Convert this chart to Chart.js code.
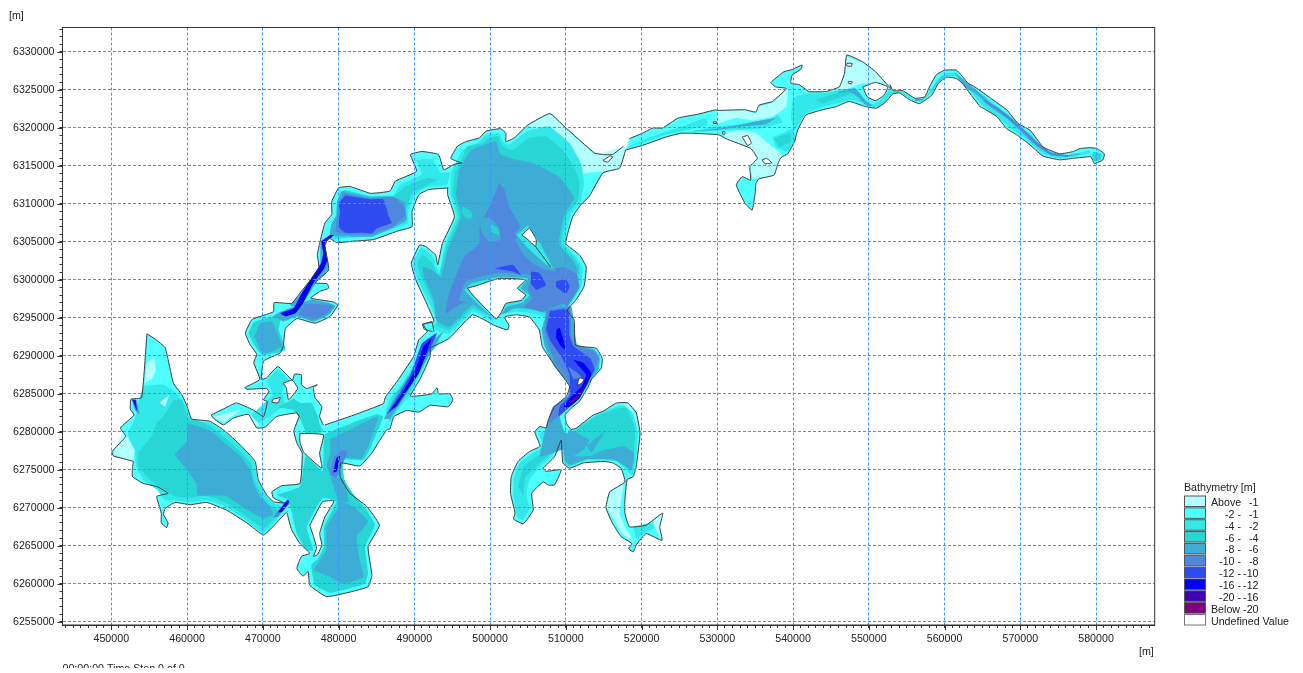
<!DOCTYPE html>
<html>
<head>
<meta charset="utf-8">
<title>Bathymetry</title>
<script src="https://cdn.jsdelivr.net/npm/chart.js@4/dist/chart.umd.min.js"></script>
<style>
  html, body { margin: 0; padding: 0; background: #fff; overflow: hidden; }
  canvas { display: block; filter: blur(0.35px); }
</style>
</head>
<body>
<canvas id="map" width="1303" height="673"></canvas>
<script>
// all outlines are [easting km, northing km]
const legendLabels = [
  ["Above", "-1"], ["-2 -", "-1"], ["-4 -", "-2"], ["-6 -", "-4"], ["-8 -", "-6"],
  ["-10 -", "-8"], ["-12 -", "-10"], ["-16 -", "-12"], ["-20 -", "-16"], ["Below", "-20"]
];
const c1 = "#b3ffff", c2 = "#4dffff", c3 = "#33e8e8", c4 = "#29d6d6", c5 = "#3dadd6";
const c6 = "#5088dd", c7 = "#2e4cf2", c8 = "#0000ff", c9 = "#4000b3", c10 = "#800080";
const legendColors = [c1, c2, c3, c4, c5, c6, c7, c8, c9, c10];

// shores: each body is a list of runs, the gaps between runs are open water
const westLakeShore = [
  [[454.7,6292.9],[455.8,6292.2],[457.1,6291.1],[457.5,6289.5],[458.2,6286.4],[459.3,6284.9],[460.0,6283.4],[460.6,6281.7],[463.0,6281.4],[465.0,6280.1],[467.0,6278.3],[469.0,6276.1],[469.4,6273.7],[470.5,6271.7],[471.4,6270.8],[472.9,6270.6]],
  [[473.2,6269.5],[471.8,6268],[470.1,6266.4],[467.9,6268],[465.2,6269.7],[462.6,6270.7],[460.4,6270.4],[458.4,6270.7],[457.1,6269.9],[456.9,6269.1],[457.5,6268],[457.3,6267.4],[456.6,6268],[456.6,6269.3],[456,6271.5],[457.5,6271.9],[456,6272.8],[454.2,6273.2],[452.8,6274.1],[452.8,6275.4],[452.9,6276.1],[450.3,6276.8],[450.1,6277.4],[451.9,6279.4],[451.2,6280.5],[453,6282.2],[452.5,6283],[452.6,6284.3],[454,6284.5],[454.7,6292.9]]
];
const southBodyShore = [
  [[473.2,6269.3],[473.8,6267.1],[474.9,6265.3],[476.2,6264],[475.1,6263.6],[474.5,6262],[475.3,6261],[476,6261.6],[476.2,6259.8],[478.4,6258.3],[481.5,6258.9],[483.9,6259.6],[484.4,6261.1],[483.9,6264.9],[485.4,6267.7],[483.7,6270.2],[481.5,6271.9],[480.2,6274.1],[480.3,6275.9],[482.8,6275.5],[484.4,6277.2],[485.2,6278.5],[486.4,6280.3],[486.8,6280.4],[487.3,6282],[489,6282.8],[490.6,6282.6],[492.1,6283.5],[493.2,6283.4],[494.5,6283.3],[495.1,6284.2],[494.7,6285],[493.2,6285],[493,6285.8],[492.3,6285],[489.5,6284.7],[490.8,6287],[492.1,6289.9],[492.1,6291]],
  [[492.6,6293.2],[492.3,6294.5],[491.2,6294.1],[491.7,6293.2],[490.6,6292.1],[489.9,6289.9],[487.7,6286.6],[486.2,6284.6],[485.9,6283.7],[482,6282.2],[478.2,6280.9]],
  [[474.8,6282],[474.1,6280.1],[474.5,6278.5],[475.2,6277.2],[474.9,6273.2],[472.5,6272.9],[471.2,6272.1],[471.4,6271.3],[472.9,6270.6]]
];
const northBodyShore = [
  [[478,6280.9],[477.5,6282],[477.8,6283.3],[476.9,6284.5],[476.7,6285.8],[477.2,6286.2],[475.8,6285.7],[475.1,6286.2],[475.1,6287.5],[474.2,6287.6],[473.9,6286.8],[472,6288.6],[470.5,6287.1],[469.8,6286.9],[470.1,6289.3],[472.3,6290.4],[472.7,6291.3],[473,6293.6],[474.5,6294.9],[476.9,6294.3],[478.9,6295.2],[479.9,6296.7],[479.3,6297.1],[476.3,6297.6],[477.6,6298.5],[478.7,6298.9],[478.5,6299.5],[476.9,6299.6],[478.7,6301.3],[478.2,6304.5],[478.7,6305.5],[479.8,6304.9],[482,6305.1],[484.6,6305.3],[487.7,6306.4],[489.7,6307],[489.7,6309],[490.6,6311.2],[491.9,6311.9],[494.5,6312.1]],
  [[496.3,6315.4],[495.2,6315.2],[493.9,6314.5],[493.2,6316.5],[491,6316.9],[489.5,6316.5],[490.3,6314.3],[487.5,6313],[486.8,6311.7],[484.2,6311.4],[481.5,6312.3],[480,6312.1],[479.1,6310.3],[479.1,6308.6],[478.2,6307.5],[477.5,6304.8],[477.2,6303.3],[477.4,6301.5],[474.7,6298],[473.8,6296.9],[471.5,6297],[471.4,6295.8],[468.6,6294.8],[467.7,6293],[468.3,6291.5],[469.2,6290.2],[468.8,6289.1],[469.6,6286.9],[467.6,6285.8],[467.9,6285.6],[470.5,6285.7],[470.8,6285.3],[470.1,6284.2],[470.6,6284],[470.1,6282],[468.7,6282.9],[466.5,6283.8],[465,6283.1],[463.2,6282.2],[463.7,6281.6],[464.8,6280.9],[466.1,6281.8],[468.1,6282.3],[469.2,6280.5],[470.3,6280.6],[471.8,6282],[474.5,6282.5],[474.8,6282]]
];
const centralBodyShore = [
  [[496.2,6315.4],[494.8,6316],[495.7,6317.6],[496.8,6318.2],[498.6,6318.7],[499.5,6319.6],[501.4,6319.9],[502.1,6319.3],[502.1,6318.2],[503.2,6318.7],[505,6320.4],[507.9,6321.9],[509.8,6320.2],[513.8,6316.7],[514.9,6316.5],[516.2,6316.5],[517.6,6317.6]],
  [[517.9,6317.1],[517.1,6314.7],[514.9,6314.1],[513.1,6311],[512,6309.9],[510.9,6308.3],[510,6304.8],[511.8,6303.3],[512.7,6301.7],[512.4,6299.1],[511.3,6297.3],[510.2,6296],[511.1,6294.7],[511.3,6291.4],[514,6291],[514.8,6289.7],[514.7,6288.4],[513.4,6286.9],[512.9,6285.8],[511.8,6284],[510.7,6283.1],[509.9,6282.2],[510.1,6281.1],[510.7,6280.3],[511.4,6280.5],[513.6,6282.2],[514.9,6282.7],[516.7,6283.8],[518.2,6283.8],[519.3,6282.5],[519.8,6279.8],[519.3,6275.4],[518.9,6274.1],[518.1,6273.7],[517.8,6271],[517.8,6269.3],[518.4,6267.5],[520.6,6267.7],[522.8,6269.3],[522.4,6267.5],[522.7,6265.7],[520.6,6266.6],[519.3,6265.1],[518.9,6264.2],[518.3,6264.6],[518.7,6265.3],[517.3,6266.2],[516.2,6267.9],[515.3,6270],[515.8,6272.1],[517.8,6273.4],[517.3,6275.2],[516.2,6275.9],[515.1,6276.1],[512.3,6275.9],[510.5,6275.2],[509.6,6275.9],[509.4,6278.9],[508.5,6276.7],[507,6275.2],[507.4,6274.8],[509.4,6275],[508.5,6273],[507.7,6273],[507,6273.4],[505.5,6271.9],[505.7,6269.7],[504.4,6267.9],[503.1,6268.5],[503.3,6269.3],[502.7,6271.9],[502.8,6274.1],[503.7,6276.1],[505.2,6277.4],[506.6,6278.1],[505.9,6280],[506.6,6280.7],[507.4,6280.5],[507.7,6281.6],[508.5,6283.3],[510.1,6284.7],[510.5,6286],[508.7,6288.5],[506.9,6291.2],[506.5,6293.4],[505.2,6295.1],[503.4,6295.4],[501.9,6295.1],[502.5,6294],[502.3,6293.4],[500.6,6294],[497.7,6295.4],[494.6,6292.3],[492,6291]],
  [[492.4,6293.2],[491.3,6293.5],[491.1,6294.2],[492.6,6294.5],[491.8,6296.5],[490.2,6300],[489.6,6302.2],[490.7,6304.6],[491.5,6304.4],[492.8,6303.3],[493.1,6302],[493.7,6304.8],[495.3,6308.3],[494.4,6311.2],[494.4,6312.1]]
];
const riverBodyShore = [
  [[518.4,6318.6],[520.1,6319.3],[521.5,6320],[522.8,6320],[524.8,6321.3],[527.4,6321.8],[529.8,6322.4],[530,6322.3],[533.6,6322.4],[535.1,6322.1],[535.5,6323],[537.3,6323.5],[539.1,6325.2],[537.7,6325.4],[537.1,6326],[538.8,6327.4],[539.9,6327.7],[541.2,6328.3],[541,6327.7],[539.9,6327],[539.7,6325.9],[540.8,6325.7],[542.1,6324.8],[544.3,6324.8],[546.1,6325.4],[546.8,6327.2],[547.1,6329.6],[549.2,6328.7],[550.9,6327.4],[552.9,6325.2],[552.8,6325.7],[553.2,6324.9],[554.5,6324.9],[556.1,6323.9],[557.4,6324.1],[558,6325.4],[558.9,6327],[560,6327.6],[561.6,6327.6],[563.1,6325.9],[564,6325.4],[566.4,6323.7],[568.2,6322.4],[569.7,6320.6],[571.3,6319.7],[573,6317.5],[575.2,6316.6],[577,6316.9],[577.9,6317.3],[579.2,6317.4],[580.1,6317.3],[581.1,6316.6],[580.9,6315.8],[579.8,6315.3],[579.3,6316.2],[577,6316],[575.2,6315.8],[573,6316.3],[571,6318],[569.5,6319.1],[568.2,6319.9],[566.9,6321.5],[565.1,6322.6],[564.7,6322.8],[563.3,6324.6],[562.5,6325.7],[561.6,6326.5],[560.3,6326.7],[559.2,6325.9],[558.3,6324.3],[556.7,6323.2],[555.4,6323.7],[554.1,6324.6],[553.2,6324.5],[552.1,6323.3],[551,6322.6],[549.6,6322.8],[547.4,6323.5],[545.7,6322.8],[543.9,6322.4],[541.7,6321.7],[540.6,6319.7],[540.2,6318.2],[539.3,6316.6],[538.4,6316.1],[538,6315.3],[537.5,6313.8],[535.5,6313.3],[535.1,6312.7],[535,6311.4],[534.6,6309.2],[533.7,6310],[532.5,6312.5],[533.3,6313.6],[534.4,6313.1],[534.3,6314.9],[535.3,6316],[534.4,6317.3],[531.1,6318.6],[530.2,6319.1],[526.7,6319.3],[525.2,6319.3],[523.2,6318.8],[520.1,6317.7],[517.9,6317.1]]
];

// islands
const islandSlit = [[476.2,6267.7],[477.9,6270.8],[479.4,6270.9],[478.2,6268.8],[477.5,6266.6],[477.8,6265.1],[477.2,6263.8],[476.7,6263.6],[477.1,6264.7],[476.7,6266.2]];
const islandJunction = [[474.9,6279.8],[478,6279.6],[477.5,6277.2],[477.8,6275.2],[475.4,6277.3],[474.9,6278.7]];
const islandNetA = [[472.7,6286.4],[473.9,6286.8],[474.6,6285.7],[473.4,6284.2],[473.1,6285.8]];
const islandNetB = [[471.4,6284.3],[472.3,6284.5],[472,6283.8],[471.2,6283.9]];
const islandBig = [[497,6298.9],[498.4,6299.3],[501.2,6300.2],[504.7,6300],[503.6,6298.9],[504.7,6298],[504.1,6297.3],[502.1,6296.9],[501.4,6295.6],[500.8,6294.9],[497.9,6297.8]];
const islandCentral = [[504.2,6305.9],[505.2,6306.8],[506.1,6305.3],[506,6304.4],[505,6305.3]];
const islandChannel = [[511.5,6286.1],[511.8,6287.1],[512.4,6286.9],[512.1,6286.4]];
const islandNeck = [[514.9,6315.7],[515.8,6316.3],[516.2,6316.2],[515.5,6315.5]];
const islandLoop = [[549.2,6325.4],[550.9,6326],[552.5,6325.4],[552,6324.3],[550.9,6323.6],[549.8,6324.1]];
const islandRiverA = [[533.3,6318.8],[534,6319],[534.5,6318],[534,6317.7]];
const islandRiverB = [[535.9,6315.8],[536.5,6316],[537.2,6315.4],[536.3,6315.3]];
const islandRiverC = [[529.5,6320.8],[529.9,6320.8],[529.9,6320.6],[529.5,6320.6]];
const islandRiverD = [[530.7,6319.5],[531,6319.5],[531,6319.2],[530.7,6319.2]];
const islandRiverE = [[547.1,6328.5],[547.8,6328.5],[547.7,6328.1],[547.1,6328.2]];
const islandRiverF = [[547.3,6326.1],[547.8,6326.1],[547.7,6325.8],[547.3,6325.9]];
const spitLine = [[506,6304.4],[508,6301.7]];

// west lake depths
const westC1a = [[454.4,6286.4],[454.7,6289],[455.6,6289.7],[455.9,6288.1],[455.4,6287]];
const westC1b = [[450.3,6277],[451.4,6279.8],[452.2,6279.2],[453.1,6277.6],[452.9,6276.1]];
const westC1c = [[456.4,6283.8],[457.6,6284.8],[457.1,6283.3]];
const westC3 = [[454.2,6286],[456.9,6286.2],[458.8,6284.9],[460,6283.1],[460.5,6281.6],[463,6281.2],[465,6279.9],[467,6278.2],[468.8,6276.1],[469.3,6273.7],[470.4,6271.6],[471.4,6270.6],[472.7,6270.2],[471.8,6268.4],[470.1,6266.7],[467.9,6268.3],[465.2,6270.1],[462.6,6271],[460.4,6270.7],[458.4,6271],[457.1,6271],[456,6272.4],[454.2,6273.7],[453.3,6275.4],[453.1,6277.2],[452.2,6279.8],[453.1,6281.6],[453.8,6284.7]];
const westC4 = [[458.2,6284.2],[459.4,6284.2],[460,6282],[463,6280.8],[464.8,6279.4],[466.8,6277.6],[468.5,6275.7],[468.8,6273.7],[470.1,6271.3],[470.9,6270.4],[472.3,6269.5],[470.9,6268],[470.1,6267.3],[467.9,6268.8],[465.2,6270.6],[462.6,6271.6],[460.4,6271.3],[458.4,6271.5],[456.9,6272.4],[455.1,6273.7],[453.6,6275.4],[453.6,6277.2],[455.3,6279.4],[456,6281.2],[456.9,6282]];
const westC5 = [[460,6281.2],[463.2,6280.1],[465,6278.5],[467,6276.8],[468.3,6275],[468.8,6273.2],[469.6,6271.5],[470.9,6270.2],[471.4,6269.1],[470.1,6268.6],[467.9,6269.7],[465.2,6271.5],[463,6271.6],[461.4,6271.6],[461.2,6273.2],[460,6275],[458.4,6277],[460,6278.7]];
const westSpotC6 = [[452.7,6284.3],[453.3,6284.2],[453.7,6282.3],[453.1,6282.9]];
const westSpotC8 = [[452.8,6284.2],[453.2,6284.2],[453.4,6282.7]];
const straitC6 = [[471.4,6268.8],[472.5,6270.2],[474.9,6272.6],[475.3,6272.1],[473.4,6270.4],[472,6268.8]];
const straitC8 = [[472,6269.4],[473.6,6271.5],[473.8,6271.2],[472.5,6269.4]];

// south basin and the arm running north east
const southC4 = [[471.8,6271.7],[474.9,6272.8],[475.7,6276.8],[477.9,6274.8],[478.2,6279.6],[481.9,6281.2],[485,6282.3],[485.9,6282],[484.4,6278.3],[483.3,6276.3],[480.6,6276.3],[480.8,6273.7],[481.9,6271.9],[483.7,6269.7],[484.8,6267.7],[483.5,6264.9],[483.9,6261.4],[483.5,6260],[481.5,6259.4],[478.9,6258.8],[476.9,6259.8],[476.4,6262.5],[477.3,6263.3],[478.1,6264.9],[478.1,6267.5],[479.7,6270.8],[477.9,6271.3],[475.8,6267.5],[476.7,6264.4],[475.8,6264.4],[474.5,6266.6],[473.8,6269.5],[473.4,6271]];
const southC5 = [[480,6271],[481.9,6270.2],[483.9,6268.2],[482.4,6266.2],[482.8,6263.1],[483.3,6260.9],[480.6,6260],[478.9,6260.9],[476.7,6261.8],[477.5,6263.1],[478.4,6264.4],[478.4,6267.5],[480,6269.9]];
const southStripC5 = [[478.9,6274.1],[480.6,6273.7],[481.3,6270.8],[480,6270.8]];
const armC5 = [[478.9,6279],[481.9,6280.5],[485.2,6282],[484.1,6278.5],[483,6276.5],[480.8,6276.5],[479.3,6274.1],[478.4,6275.4],[478.9,6277.2]];
const armSpotC6 = [[478.8,6274.3],[479.3,6276.5],[480.4,6277.6],[481.2,6277.4],[480.2,6275],[479.7,6273.9]];
const armSpotC8 = [[479.3,6274.6],[479.7,6276.5],[480.2,6276.8],[479.8,6274.8]];
const armUpperC3 = [[486.8,6284.4],[488.6,6286.6],[490.3,6289.4],[491,6291.4],[492.8,6292.5],[493.4,6291.9],[492.1,6290.3],[491.2,6288.6],[489.5,6285],[487.7,6282.8],[486.8,6281.3],[486.2,6282.8]];
const armUpperC5 = [[486,6281.7],[487.3,6284.4],[489.7,6288.1],[491,6291.2],[493,6292.5],[494.1,6293.6],[492.1,6290.3],[490.1,6286.8],[488.1,6283.7],[486.8,6281.7]];
const armUpperC7 = [[486.4,6282.3],[489.5,6287.5],[491,6291.6],[493,6293],[492.1,6291],[490.3,6287.5],[487.9,6283.5]];
const armUpperC8 = [[486.6,6282.6],[487.5,6283.7],[489.2,6286.4],[490.3,6288.6],[491.2,6291.2],[492.3,6292.3],[491.9,6291.2],[490.6,6287.7],[489.5,6286.1],[487.5,6283.3]];

// north west lake, its channel and the small network
const nwC3 = [[480.2,6311.7],[484.2,6310.9],[487.3,6311.2],[488.1,6312.5],[491,6313.9],[490.3,6315.8],[492.5,6315.8],[493.4,6314.1],[494.7,6314.1],[494.3,6312.5],[491.7,6312.2],[490.1,6311.2],[489.2,6309],[489.2,6307.5],[487.3,6306.7],[484.2,6305.7],[481.1,6305.5],[479.3,6305.3],[478.8,6305.7],[479.8,6307.5],[479.6,6309]];
const nwC4 = [[487.3,6311],[488.8,6312.3],[491.7,6313.4],[493.2,6313.2],[491.7,6312.5],[489.7,6311.4],[488.9,6309],[488.8,6307.7],[487.3,6307],[484.2,6306.1],[481.1,6305.8],[479.6,6305.6],[479.8,6310.1],[480.7,6311.8],[484.2,6311]];
const nwC5 = [[480.4,6311.7],[484.2,6310.9],[486.8,6311],[488.6,6310.3],[489,6307.9],[487.3,6306.9],[484.4,6305.7],[480.9,6305.7],[478.9,6305.9],[479.1,6307.5],[479.8,6308.6],[479.8,6310.3]];
const nwC6 = [[480.7,6311.4],[484.2,6310.7],[487.3,6310.9],[488.7,6309.7],[488.8,6308.4],[487.3,6307.1],[484.4,6306],[480.9,6306],[479.6,6306.4],[479.8,6308.1],[480,6310.1]];
const nwC7 = [[480.9,6311.1],[484.2,6310.6],[485.9,6310.6],[486.6,6308.4],[487,6307.5],[485.1,6306.8],[484.4,6306.1],[483.1,6306.2],[480.9,6306.2],[480,6307],[480.2,6309],[480,6310.1]];
const channelC5 = [[477.6,6304.9],[478.2,6304.7],[478.7,6301.5],[477,6299.6],[475.6,6297.4],[474.7,6296.3],[473.6,6296.7],[474.7,6297.8],[476.7,6300.4],[477.6,6302.2]];
const channelC8 = [[477.7,6305.1],[478.9,6305.9],[479.4,6305.9],[478.2,6304.8],[478.5,6302.6],[478.1,6301.5],[476.7,6299.6],[475.3,6296.9],[474.3,6295.6],[473,6295.2],[472.3,6295.6],[474.1,6296.3],[474.9,6297.8],[476.5,6300.4],[477.7,6302.2],[478,6303.5]];
const midLakeC5 = [[474.1,6296.5],[476.3,6297.4],[478.9,6296.9],[479.6,6296.6],[478.7,6295.4],[476.7,6294.5],[474.5,6295.2],[472.7,6294.5],[471.4,6295.2],[472.3,6295.8]];
const midLakeC6 = [[475.6,6296.9],[478.9,6296.7],[479.3,6296.5],[478.5,6295.5],[476.7,6294.8],[474.7,6295.4]];
const smallLakeC4 = [[468.1,6293],[468.8,6294.4],[471.4,6295.2],[472.3,6294.7],[472.1,6293.4],[473,6290.8],[470.3,6290.1],[469.7,6290.3],[468.6,6291.9]];
const smallLakeC5 = [[468.9,6292.5],[469.6,6294.2],[471.2,6294.5],[471.9,6293],[472.5,6291.2],[470.3,6290.3],[469.7,6290.7]];
const netC3 = [[470.5,6286.7],[472,6288.2],[473.5,6286.7],[472.5,6285.3],[472.9,6283.8],[471.6,6282.5],[469.6,6281.2],[468.5,6282.1],[470,6283.6],[471.2,6284.7],[471,6286]];
const netC4 = [[474.9,6283.8],[476.4,6283.8],[477.3,6282],[477.5,6281],[478,6280],[475.8,6279.8],[475,6281.6],[474,6282.9],[472,6283.2],[474.1,6284.4]];
const netC1a = [[463.5,6282],[467,6282.9],[466.6,6282.5],[464.8,6281.2]];
const netC1b = [[468.1,6282],[469.2,6280.8],[469.6,6280.8],[468.5,6282.1]];

// central lake
const centralC1 = [[505,6320.3],[507.9,6321.8],[509.8,6320.1],[513.8,6316.6],[517.6,6317.5],[517.9,6317.2],[517.1,6314.8],[515,6314],[513.2,6311.1],[512.6,6313.1],[510.9,6316.1],[508.7,6319],[506.5,6319.7]];
const centralC2 = [[510.5,6313.8],[514.9,6314.2],[513.1,6311.3],[511.8,6310.4],[510.9,6312.2]];
const centralC3 = [[495.5,6315.4],[496.4,6317.1],[498.6,6318.2],[499.5,6319.1],[501.2,6319.3],[501.7,6318.2],[502.5,6317.8],[505,6319.6],[507.8,6320.2],[510.5,6318],[512,6315.4],[512.4,6312.7],[512,6310.5],[510.7,6308.6],[509.8,6304.8],[511.3,6303.1],[512.2,6301.7],[512,6299.1],[510.7,6296.9],[509.6,6295.6],[507.4,6295.1],[505.6,6295.6],[503.4,6295.8],[502.1,6295.6],[501.2,6295.1],[500.3,6294.7],[497.7,6295.8],[494.6,6292.9],[492.4,6293.6],[492.9,6294.7],[492,6296.9],[490.4,6300.2],[489.9,6302.2],[490.9,6304.2],[492.4,6303.1],[493.3,6300.9],[494,6304.4],[495.6,6308.3],[494.8,6311.2],[494.8,6314.1]];
const centralC4 = [[496.2,6315.6],[497,6317.6],[499,6318],[499.8,6318.7],[501,6318.9],[501.7,6317.6],[503,6317.1],[505.2,6318.7],[507.4,6318.9],[509.6,6317.1],[511.3,6314.5],[511.8,6312.7],[511.6,6310.5],[510.2,6308.6],[509.4,6304.8],[510.9,6303.1],[511.8,6301.7],[511.6,6299.3],[510.2,6297.1],[509.4,6296],[507.4,6295.6],[505.6,6296],[503.4,6296.2],[502.3,6296],[501.2,6295.4],[500.3,6295.1],[497.7,6296.2],[494.6,6293.4],[492.9,6294],[493.2,6294.9],[492.4,6297.1],[490.9,6300.4],[490.4,6302.2],[491.1,6303.3],[492.4,6302.2],[493.2,6300.4],[494.2,6304.2],[495.9,6308.3],[495.1,6311.2],[495.3,6314.1]];
const centralC5 = [[496.4,6315.4],[497.5,6317.1],[499.7,6318],[500.8,6318.2],[501.4,6316.5],[503.4,6315.8],[505.6,6315.4],[509.1,6313.6],[511.1,6310.8],[509.8,6308.6],[509.1,6304.8],[510.9,6302.6],[511.6,6301.3],[510.9,6298.7],[509.1,6296],[506.9,6295.8],[505.4,6296.2],[503,6296.5],[502.1,6296.2],[501.2,6295.6],[500.3,6295.6],[497.9,6296.9],[494.6,6293.8],[492.9,6294.7],[492.6,6297.3],[491.3,6300.4],[491.1,6301.7],[492.4,6301.3],[493.5,6300.4],[494.4,6303.9],[496.2,6308.3],[495.5,6311.2],[495.9,6314.5]];
const centralC6 = [[501.2,6312.8],[501.9,6311.9],[502.5,6309.7],[503.9,6307.2],[503.4,6305.3],[504.3,6303.5],[505.6,6302.2],[507.4,6301.3],[509.6,6301.7],[511.3,6300.9],[511.8,6299.1],[510.2,6296.5],[509.6,6296.9],[506.9,6295.8],[505.4,6296.2],[503,6296.5],[501.7,6295.6],[500.3,6295.6],[497.9,6296.9],[496.2,6296.9],[494.2,6295.6],[494.6,6298.2],[496.6,6303.1],[498.6,6304.8],[498.6,6307],[499.5,6308.8],[500.3,6310.5]];
const ringC5 = [[495.9,6297.3],[496.8,6299.8],[501.2,6300.9],[505.4,6300.6],[505,6298.7],[505.6,6297.6],[504.5,6296.5],[503,6296.2],[502.1,6295.6],[501.4,6295.6],[500.3,6295.1],[497.9,6296.7]];
const ringC3 = [[496.6,6298.7],[497.5,6299.5],[501.2,6300.4],[505,6300.2],[504.1,6298.9],[505.2,6298],[504.3,6297],[502.3,6296.5],[501.4,6295.4],[500.8,6294.7],[497.9,6297.3]];
const slitC5 = [[503.2,6306.1],[505,6307.5],[506.7,6305.3],[508.7,6301.1],[506.9,6301.7],[504.7,6303.9]];
const slitC3 = [[503.5,6305.9],[505,6307.1],[506.5,6305],[508.3,6301.5],[507.2,6302.2],[505,6304.2]];
const patchC5 = [[498.6,6307.9],[499.9,6308.3],[501.2,6306.8],[501.4,6305.3],[499.9,6305],[498.8,6306.4]];
const patchC4a = [[499.9,6307.5],[501,6306.8],[501.2,6305.9],[500.1,6306.4]];
const patchC4b = [[496.4,6309.7],[497.5,6309],[497.7,6308.1],[496.8,6308.1],[496.2,6309]];
const deepC7a = [[505.4,6301.1],[506.5,6300.9],[507.4,6299.3],[506.1,6298.7],[505.4,6299.5]];
const deepC7b = [[508.7,6299.8],[510,6300.1],[510.5,6299.1],[510,6298.2],[508.7,6299.1]];
const deepC7c = [[500.6,6301.5],[503,6302],[504.1,6300.6],[503,6301.1],[501.2,6301.4]];

// channel south of the central lake
const southChC5 = [[507.7,6296.3],[510.7,6296.5],[511.2,6293],[511.5,6291.5],[513.8,6290.8],[514.5,6289.7],[514.3,6288.2],[512.9,6286.2],[511.4,6284.2],[509.9,6282.9],[509.2,6282],[509.9,6279.8],[510.7,6279.8],[510.5,6278.1],[506.6,6276.7],[507,6278.9],[507.4,6280.7],[508.3,6283.3],[510.3,6284.7],[510.5,6286],[508.5,6288.6],[507.2,6291.3],[506.8,6293.5]];
const southChC6 = [[507.4,6296.1],[510.5,6296.3],[510.7,6292.6],[511.3,6291.3],[513.8,6290.6],[514.3,6289.5],[513.9,6288.4],[512.5,6286],[511,6283.8],[509.4,6282.5],[509,6282],[507.7,6281.1],[508.5,6283.3],[510.3,6284.7],[510.5,6286.4],[508.8,6288.8],[507.7,6291.3],[507.2,6293.2]];
const southChC7 = [[507.9,6295.9],[510.3,6296.1],[510.5,6292.6],[511,6291.3],[513.2,6289.7],[513.8,6288.2],[512.7,6286.2],[511.4,6284.2],[509.9,6282.7],[509,6282],[509.2,6283.3],[510.5,6284.7],[510.5,6287.5],[509.4,6289.9],[507.9,6292.1],[507.4,6293.5]];
const southChPatchC6 = [[510.3,6288.6],[511.6,6287.7],[512.1,6287.1],[511,6286.9]];
const southChC8a = [[508.8,6293.5],[509.2,6293.7],[509.9,6291.3],[509.9,6290.8],[509.2,6291.5],[508.7,6292.4]];
const southChC8b = [[511,6289.5],[512.3,6289.1],[513.4,6287.7],[512.9,6286.4],[511.8,6284.4],[510.5,6283.3],[509.7,6283.3],[510.5,6284.4],[512.1,6286],[512.7,6287.5],[511.6,6288.8]];
const southChC9 = [[511,6284.4],[512.5,6286],[512.3,6285.3],[511.2,6284]];
const southChC10 = [[510.7,6284],[511.5,6284.7],[511.3,6284.2],[510.9,6283.8]];

// south east basin and the two lobes below the channel
const seC1 = [[517.6,6283.6],[518.3,6283.6],[519.2,6282.2],[519.6,6279.8],[518.9,6282.5]];
const seC3 = [[511.2,6280.3],[514,6282.2],[516.9,6283.4],[518.4,6283.3],[519.5,6280.7],[519.3,6276.7],[518.8,6274.3],[516.7,6276.1],[512.7,6276.2],[510.5,6275.4],[509.7,6276.1],[509.6,6278.9],[510.5,6279.8]];
const seC4 = [[511.4,6280.3],[514,6282],[516.9,6283.1],[518,6283.1],[519.1,6280.7],[519,6276.7],[518.7,6275],[516.5,6276.3],[512.7,6276.4],[510.5,6275.6],[509.9,6276.3],[509.9,6278.9],[510.5,6279.8]];
const seC5 = [[510.5,6280.3],[511.5,6279.8],[513.1,6278.9],[512.3,6277.6],[511.1,6276.8],[513.2,6276.8],[515.1,6277.6],[517.6,6278.1],[519,6277.2],[518.7,6275],[516.5,6276.3],[512.7,6276.4],[510.5,6275.6],[509.9,6276.3],[509.6,6278.9]];
const seStripC5 = [[512.7,6278.1],[515.1,6280],[513.4,6277.2]];
const tailC1 = [[515.4,6270],[515.9,6272],[517.6,6273.1],[517.3,6271],[517.1,6269.3],[517.8,6267.5],[518.9,6265.7],[517.6,6266.4],[516.5,6268.2]];
const tailC3 = [[518.9,6267.5],[521.1,6268],[522,6267.5],[520.6,6266.8],[519.3,6265.9]];
const tailTipC1 = [[521.5,6268.8],[522.8,6269.1],[522.4,6267.5],[522.6,6265.9],[521.7,6267.5]];
const swLobeC3 = [[503.1,6273.9],[503.9,6275.9],[505.7,6277.2],[507,6278.1],[506.5,6279.8],[507.4,6280],[509,6278.9],[508.3,6277],[506.6,6275.4],[505.2,6273.7],[504.8,6271.9],[505.2,6269.9],[504.4,6268.4],[503.6,6268.8],[503.1,6271.5]];
const swLobeC4 = [[503.7,6272.8],[504.4,6275.4],[506.1,6276.7],[507.2,6277.6],[507,6279.4],[508.8,6278.7],[508.1,6277.2],[506.6,6275.9],[504.6,6273.9],[504.4,6271.5]];

// north east river
const riverC1a = [[530,6322.3],[533.6,6322.3],[535.1,6321.9],[535.5,6322.8],[537.3,6323.3],[539.3,6325.1],[539.1,6322.8],[537.3,6321.5],[534.7,6321],[532.5,6321.3],[529.8,6320.5]];
const riverC1b = [[530.9,6319.5],[533.3,6319.7],[535.1,6319.3],[537.3,6317.5],[538.6,6316.4],[538,6315.3],[537.5,6313.9],[535.5,6313.4],[534.7,6313.3],[534.4,6314.9],[535.3,6316],[534.4,6317.3],[531.1,6318.6]];
const riverC1c = [[547.1,6329.4],[549.2,6328.6],[550.9,6327.3],[552.7,6325.2],[549.2,6325.9],[547.4,6325.2],[544.8,6324.9],[546.1,6325.4],[546.8,6327.2]];
const riverC3a = [[540.4,6324.1],[542.1,6324.6],[544.3,6324.6],[546.1,6325],[548.3,6325.2],[549.2,6324.1],[550.3,6323],[547.9,6323.7],[545.7,6323.2],[543.9,6322.8],[541.7,6321.9],[540.8,6320.6],[540.2,6319.7],[539.7,6321.3],[539.9,6323.7]];
const riverC3b = [[537.3,6318.8],[538.6,6319.3],[539.9,6319.9],[540.4,6318.4],[539.1,6316.9],[537.7,6317.5]];
const riverC4b = [[537.5,6318.6],[538.8,6319.1],[539.7,6319.3],[539.7,6318.2],[538.2,6317.5]];
const riverC3c = [[526.5,6319.5],[529.8,6320.2],[536.4,6320.8],[538,6321.7],[538.6,6320.8],[535.5,6319.9],[530.3,6319.7],[527.2,6319.4]];
const riverC5c = [[526.7,6319.6],[529.8,6319.9],[533.3,6320.5],[537.7,6321.3],[536.4,6320.5],[533.3,6320.2],[529.8,6319.7]];
const riverC3d = [[518.2,6317.5],[520.1,6318.4],[523.2,6319.5],[525.9,6320.4],[528.5,6321.3],[528.7,6320.4],[525.9,6319.7],[523.2,6319.1],[520.1,6318]];
const riverC4e = [[543,6323.7],[544.8,6324.3],[546.5,6324.8],[548.1,6325.1],[548.5,6324.8],[546.5,6324.1],[543.9,6323.2]];
const riverC5e = [[545.9,6324.8],[548.1,6325.2],[548.8,6324.6],[549.6,6323.5],[550.9,6322.8],[549.6,6323],[548.5,6324.1],[547.4,6324.8],[546.1,6324.6]];
const riverC3f = [[550.3,6323],[551.4,6322.8],[553.2,6324.6],[552.9,6325.1],[551.4,6323.5]];
const bendC3 = [[553.2,6324.8],[554.5,6324.7],[556.1,6323.7],[557.4,6323.8],[558.3,6325.2],[559.2,6326.5],[560,6327.2],[561.6,6327.2],[562.9,6325.7],[564,6325.1],[566.4,6323.3],[568.2,6321.9],[569.7,6320.2],[571.3,6319.3],[573,6317.2],[575.2,6316.3],[577,6316.5],[579.2,6317.1],[579.2,6316.7],[577,6316.2],[575.2,6316],[573,6316.6],[571,6318.3],[569.5,6319.4],[568.2,6320.4],[566.6,6321.7],[565.1,6322.9],[563.6,6324.6],[562.5,6326],[561.6,6326.8],[560.3,6326.8],[559.4,6326.2],[558.4,6324.8],[557,6323.5],[555.6,6323.8],[554.3,6324.6],[553.2,6324.6]];
const bendC5 = [[556.1,6323.5],[557,6323.6],[557.8,6324.3],[558.9,6325.9],[559.8,6326.8],[561.4,6327],[562.7,6325.4],[564,6324.6],[566,6322.8],[568.2,6321.3],[569.9,6319.7],[571.7,6318],[573.9,6316.6],[576.1,6316.2],[577.9,6316.6],[577.9,6316.7],[576.1,6316.4],[573.9,6316.9],[571.7,6318.5],[570.2,6320],[568.4,6321.7],[566.2,6323.2],[564.2,6325],[563.1,6325.9],[561.6,6327],[560,6326.8],[559,6325.9],[557.9,6324.4],[557,6323.8],[556.1,6323.8]];
const bendC6 = [[565.1,6323.5],[566.9,6322.4],[568.6,6321],[570.4,6319.5],[572.1,6317.7],[574.1,6316.4],[576.3,6316.2],[576.3,6316.4],[574.1,6316.7],[572.4,6318],[570.6,6319.7],[568.8,6321.3],[567.1,6322.6],[565.3,6323.7]];
const mouthC4 = [[579.6,6316.9],[580.7,6316.6],[580.6,6315.8],[579.8,6315.6],[579.5,6316.2]];

const bodies = [westLakeShore, southBodyShore, northBodyShore, centralBodyShore, riverBodyShore];
const islands = [islandSlit, islandJunction, islandNetA, islandNetB, islandBig, islandCentral, islandChannel, islandNeck,
  islandLoop, islandRiverA, islandRiverB, islandRiverC, islandRiverD, islandRiverE, islandRiverF];
// painted in this order, deeper water on top
const depthAreas = [
  [westC3, c3], [westC4, c4], [westC5, c5], [westC1a, c1], [westC1b, c1], [westC1c, c1],
  [westSpotC6, c6], [westSpotC8, c8], [straitC6, c6], [straitC8, c8],
  [netC3, c3], [netC4, c4], [netC1a, c1], [netC1b, c1],
  [southC4, c4], [southC5, c5], [southStripC5, c5], [armC5, c5], [armSpotC6, c6], [armSpotC8, c8],
  [armUpperC3, c3], [armUpperC5, c5], [armUpperC7, c7], [armUpperC8, c8],
  [smallLakeC4, c4], [smallLakeC5, c5], [midLakeC5, c5], [midLakeC6, c6],
  [nwC3, c3], [nwC4, c4], [nwC5, c5], [nwC6, c6], [nwC7, c7], [channelC5, c5], [channelC8, c8],
  [centralC1, c1], [centralC2, c2], [centralC3, c3], [centralC4, c4], [centralC5, c5], [centralC6, c6],
  [ringC5, c5], [ringC3, c3], [slitC5, c5], [slitC3, c3], [patchC5, c5], [patchC4a, c4], [patchC4b, c4],
  [deepC7a, c7], [deepC7b, c7], [deepC7c, c7],
  [seC3, c3], [seC4, c4], [seC5, c5], [seStripC5, c5], [seC1, c1], [tailC1, c1], [tailC3, c3], [tailTipC1, c1],
  [swLobeC3, c3], [swLobeC4, c4],
  [southChC5, c5], [southChC6, c6], [southChC7, c7], [southChPatchC6, c6], [southChC8a, c8], [southChC8b, c8], [southChC9, c9], [southChC10, c10],
  [riverC1a, c1], [riverC1b, c1], [riverC1c, c1], [riverC3a, c3], [riverC3b, c3], [riverC4b, c4], [riverC3c, c3], [riverC5c, c5],
  [riverC3d, c3], [riverC4e, c4], [riverC5e, c5], [riverC3f, c3],
  [bendC3, c3], [bendC5, c5], [bendC6, c6], [mouthC4, c4]
];

const toPoints = (pts) => pts.map((p) => ({ x: p[0] * 1000, y: p[1] * 1000 }));
const closed = (pts) => [...pts, pts[0]];
const SHORE_COLOR = "#3c3c3c";
const TENSION = 0.12;

function area(pts, color) {
  return { data: toPoints(pts), showLine: true, fill: "shape", backgroundColor: color, borderWidth: 0, pointRadius: 0, tension: TENSION };
}
function line(pts, fillColor) {
  return { data: toPoints(pts), showLine: true, fill: fillColor ? "shape" : false, backgroundColor: fillColor || "transparent", borderColor: SHORE_COLOR, borderWidth: 1, pointRadius: 0, tension: TENSION };
}

const datasets = [];
bodies.forEach((runs) => datasets.push(area(runs.flat(1), c2)));
depthAreas.forEach(([pts, color]) => datasets.push(area(pts, color)));
islands.forEach((pts) => datasets.push(line(closed(pts), "#ffffff")));
bodies.forEach((runs) => runs.forEach((run) => datasets.push(line(run))));
datasets.push(line(spitLine));
// chart.js paints the lowest order last, so the list order above becomes the paint order
datasets.forEach((d, i) => { d.order = datasets.length - i; });

const FONT = "10.67px 'Liberation Sans', Arial, sans-serif";
const TEXT = "#222";

const frameAndLegend = {
  id: "frameAndLegend",
  afterDraw(chart) {
    const { ctx, chartArea: a, scales } = chart;
    ctx.save();
    ctx.strokeStyle = "#333";
    ctx.lineWidth = 1;
    ctx.strokeRect(a.left, a.top, a.right - a.left, a.bottom - a.top);
    // longer marks on the labelled ticks
    ctx.beginPath();
    scales.x.ticks.forEach((t) => {
      if (t.value % 10000 === 0) {
        const px = Math.round(scales.x.getPixelForValue(t.value)) + 0.5;
        ctx.moveTo(px, a.bottom);
        ctx.lineTo(px, a.bottom + 5);
      }
    });
    scales.y.ticks.forEach((t) => {
      if (t.value % 5000 === 0) {
        const py = Math.round(scales.y.getPixelForValue(t.value)) + 0.5;
        ctx.moveTo(a.left, py);
        ctx.lineTo(a.left - 5, py);
      }
    });
    ctx.stroke();

    ctx.font = FONT;
    ctx.fillStyle = TEXT;
    ctx.textBaseline = "alphabetic";
    ctx.textAlign = "left";
    ctx.fillText("[m]", 9, 19);
    ctx.fillText("[m]", 1139, 655);
    ctx.fillText("Bathymetry [m]", 1184, 491);

    legendLabels.forEach((row, i) => {
      const y = 496 + i * 11.85;
      ctx.fillStyle = legendColors[i];
      ctx.fillRect(1184.5, y, 21, 10.5);
      ctx.strokeStyle = "#555";
      ctx.strokeRect(1184.5, y, 21, 10.5);
      ctx.fillStyle = TEXT;
      if (row[0] === "Above" || row[0] === "Below") {
        ctx.textAlign = "left";
        ctx.fillText(row[0], 1211, y + 10);
      } else {
        ctx.textAlign = "right";
        ctx.fillText(row[0], 1241, y + 10);
      }
      ctx.textAlign = "right";
      ctx.fillText(row[1], 1258.5, y + 10);
    });
    const y = 496 + 10 * 11.85;
    ctx.fillStyle = "#fff";
    ctx.fillRect(1184.5, y, 21, 10.5);
    ctx.strokeStyle = "#777";
    ctx.strokeRect(1184.5, y, 21, 10.5);
    ctx.fillStyle = TEXT;
    ctx.textAlign = "left";
    ctx.fillText("Undefined Value", 1211, y + 10);

    // the caption is cut off by the bottom of the window in the original
    ctx.beginPath();
    ctx.rect(0, 640, 1303, 28);
    ctx.clip();
    ctx.fillText("00:00:00 Time Step 0 of 0", 62.5, 672);
    ctx.restore();
  }
};

function axis(min, max, major, fit) {
  return {
    type: "linear",
    min: min,
    max: max,
    afterFit: fit,
    // ticks on whole kilometres, the range itself does not start on one
    afterBuildTicks: (s) => {
      s.ticks = [];
      for (let v = Math.ceil(min / 1000) * 1000; v <= max; v += 1000) s.ticks.push({ value: v });
    },
    grid: {
      z: 1,
      color: (c) => (c.tick && c.tick.value % major === 0 ? "#3a96ff" : "rgba(0,0,0,0)"),
      lineWidth: 1,
      tickColor: "#333",
      tickLength: 3,
      drawTicks: true
    },
    border: { display: true, color: "#333", dash: [3, 2], z: 1 },
    ticks: {
      autoSkip: false,
      maxRotation: 0,
      padding: 5,
      color: TEXT,
      font: { family: "'Liberation Sans', Arial, sans-serif", size: 10.67 },
      callback: (v) => (v % major === 0 ? String(v) : "")
    }
  };
}

new Chart(document.getElementById("map").getContext("2d"), {
  type: "scatter",
  data: { datasets: datasets },
  plugins: [frameAndLegend],
  options: {
    responsive: false,
    animation: false,
    layout: { padding: { top: 27.5, right: 148.3, left: 0, bottom: 0 } },
    plugins: { legend: { display: false }, tooltip: { enabled: false } },
    scales: {
      x: axis(443558, 587743, 10000, (s) => { s.height = 48; }),
      y: axis(6254566, 6333225, 5000, (s) => { s.width = 62.5; })
    }
  }
});
</script>
</body>
</html>
